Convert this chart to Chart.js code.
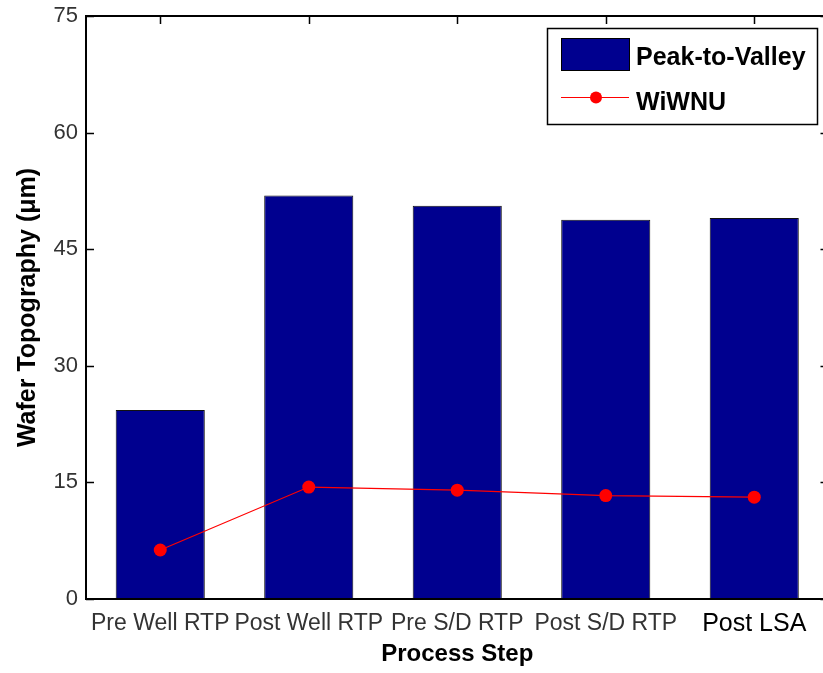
<!DOCTYPE html>
<html>
<head>
<meta charset="utf-8">
<script src="https://cdn.jsdelivr.net/npm/chart.js@4/dist/chart.umd.min.js"></script>
<style>
  html, body { margin: 0; padding: 0; background: #fff; overflow: hidden; }
  #wrap { width: 835px; height: 673px; }
</style>
</head>
<body>
<div id="wrap"><canvas id="myChart" width="835" height="673"></canvas></div>
<script>
const steps = ["Pre Well RTP", "Post Well RTP", "Pre S/D RTP", "Post S/D RTP", "Post LSA"];
const peakToValley = [24.3, 51.9, 50.6, 48.8, 49.0];
const wiwnu = [6.3, 14.4, 14.0, 13.3, 13.1];
const yTicks = [0, 15, 30, 45, 60, 75];

const barColor = "#00008f";
const lineColor = "#ff0000";
const fontName = "'Liberation Sans', Arial, sans-serif";

// box round the axes with inward ticks, like the original
const framePlugin = {
    id: "frame",
    afterDatasetsDraw(chart) {
        const ctx = chart.ctx;
        const a = chart.chartArea;
        const x = chart.scales.x;
        const y = chart.scales.y;
        ctx.save();
        ctx.strokeStyle = "#000";
        ctx.lineWidth = 2;
        ctx.strokeRect(a.left, a.top, a.right - a.left, a.bottom - a.top);
        ctx.lineWidth = 1.5;
        ctx.beginPath();
        yTicks.forEach(function (v) {
            const py = Math.round(y.getPixelForValue(v)) + 0.5;
            ctx.moveTo(a.left, py);
            ctx.lineTo(a.left + 8, py);
            ctx.moveTo(a.right, py);
            ctx.lineTo(a.right - 8, py);
        });
        steps.forEach(function (s, i) {
            const px = Math.round(x.getPixelForValue(i)) + 0.5;
            ctx.moveTo(px, a.top);
            ctx.lineTo(px, a.top + 8);
        });
        ctx.stroke();
        ctx.restore();
    }
};

// legend box in the upper right corner
const legendPlugin = {
    id: "boxLegend",
    afterDraw(chart) {
        const ctx = chart.ctx;
        const barSet = chart.data.datasets.find(function (d) { return d.type === "bar"; });
        const lineSet = chart.data.datasets.find(function (d) { return d.type === "line"; });
        ctx.save();
        ctx.fillStyle = "#fff";
        ctx.fillRect(547, 28, 271, 97);
        ctx.strokeStyle = "#000";
        ctx.lineWidth = 1.5;
        ctx.strokeRect(547.5, 28.5, 270, 96);

        ctx.fillStyle = barColor;
        ctx.fillRect(561, 38, 69, 33);
        ctx.lineWidth = 1;
        ctx.strokeRect(561.5, 38.5, 68, 32);

        ctx.strokeStyle = lineColor;
        ctx.beginPath();
        ctx.moveTo(561, 97.5);
        ctx.lineTo(629, 97.5);
        ctx.stroke();
        ctx.fillStyle = lineColor;
        ctx.beginPath();
        ctx.arc(596, 97.5, 6, 0, Math.PI * 2);
        ctx.fill();

        ctx.fillStyle = "#000";
        ctx.font = "bold 25px " + fontName;
        ctx.textBaseline = "alphabetic";
        ctx.fillText(barSet.label, 636, 65);
        ctx.fillText(lineSet.label, 636, 110);
        ctx.restore();
    }
};

const ctx = document.getElementById("myChart").getContext("2d");

const myChart = new Chart(ctx, {
    data: {
        labels: steps,
        datasets: [{
            type: "line",
            label: "WiWNU",
            data: wiwnu,
            borderColor: lineColor,
            borderWidth: 1.2,
            backgroundColor: lineColor,
            pointBackgroundColor: lineColor,
            pointBorderWidth: 0,
            pointRadius: 6.5,
            tension: 0,
            order: 0
        }, {
            type: "bar",
            label: "Peak-to-Valley",
            data: peakToValley,
            backgroundColor: barColor,
            borderColor: "#111",
            borderWidth: 1,
            barPercentage: 0.6,
            categoryPercentage: 1,
            order: 1
        }]
    },
    options: {
        responsive: false,
        animation: false,
        devicePixelRatio: 1,
        layout: { padding: { left: 0, right: 6, top: 16, bottom: 0 } },
        plugins: {
            legend: { display: false },
            tooltip: { enabled: false }
        },
        scales: {
            x: {
                offset: true,
                grid: { display: false, drawTicks: false },
                border: { display: false },
                afterFit: function (scale) { scale.height = 74; },
                ticks: {
                    maxRotation: 0,
                    autoSkip: false,
                    padding: 15,
                    color: function (c) { return c.index === 4 ? "#000" : "#333"; },
                    font: function (c) {
                        return c.index === 4
                            ? { family: fontName, size: 25, lineHeight: 0.8 }
                            : { family: fontName, size: 23, lineHeight: 0.8 };
                    }
                },
                title: {
                    display: true,
                    text: "Process Step",
                    color: "#000",
                    padding: { top: 0, bottom: 4 },
                    font: { family: fontName, size: 24, weight: "bold" }
                }
            },
            y: {
                min: 0,
                max: 75,
                afterFit: function (scale) { scale.width = 86; },
                afterBuildTicks: function (scale) {
                    scale.ticks = yTicks.map(function (v) { return { value: v }; });
                },
                grid: { display: false, drawTicks: false },
                border: { display: false },
                ticks: {
                    padding: 8,
                    color: "#333",
                    font: { family: fontName, size: 22, lineHeight: 0.6 }
                },
                title: {
                    display: true,
                    text: "Wafer Topography (μm)",
                    color: "#000",
                    padding: { top: 13, bottom: 0 },
                    font: { family: fontName, size: 25, weight: "bold" }
                }
            }
        }
    },
    plugins: [framePlugin, legendPlugin]
});
</script>
</body>
</html>
